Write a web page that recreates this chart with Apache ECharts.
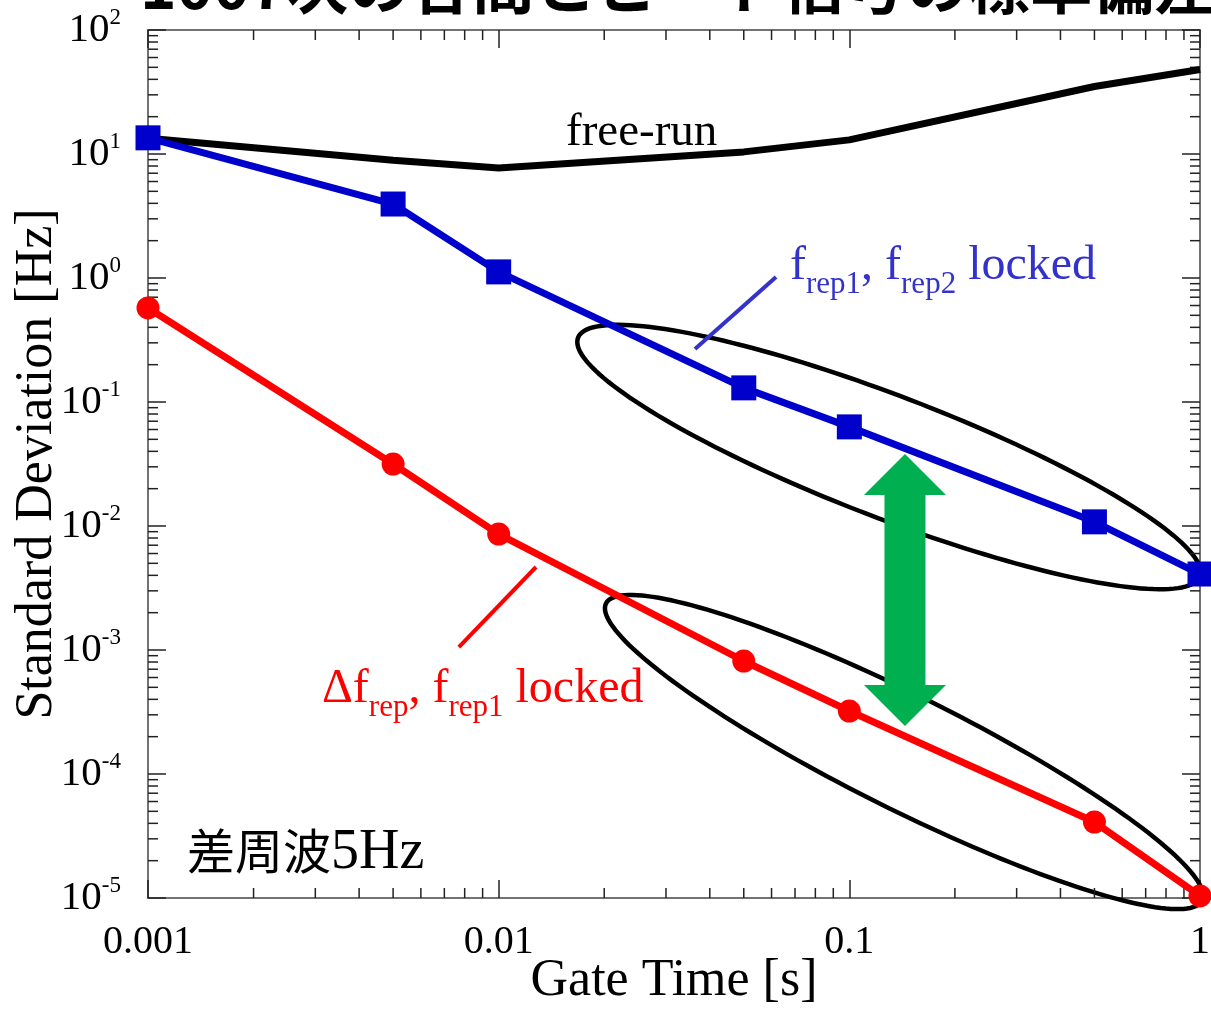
<!DOCTYPE html>
<html><head><meta charset="utf-8">
<script src="https://cdn.jsdelivr.net/npm/echarts@6/dist/echarts.min.js"></script>
<style>html,body{margin:0;padding:0;background:#fff}#c{width:1211px;height:1009px}</style>
</head><body><div id="c"></div>
<script>
// ---- data ----
const gateTimes = [0.001, 0.005, 0.01, 0.05, 0.1, 0.5, 1];
const freeRun = [13.4, 8.9, 7.7, 10.4, 13.0, 35, 48];
const bothLocked = [13.5, 3.95, 1.12, 0.13, 0.063, 0.0108, 0.0041];
const deltaLocked = [0.573, 0.0316, 0.0086, 8.15e-4, 3.22e-4, 4.1e-5, 1.04e-5];
const xTickLabels = ['0.001', '0.01', '0.1', '1'];
const yTickExponents = ['-5', '-4', '-3', '-2', '-1', '0', '1', '2'];
const titleText = '1007次の各間とビート信号の標準偏差';
const freeRunLabel = 'free-run';
const noteText = ['差周波', '5Hz'];

// annotation anchors in data coordinates
const ellipseUpper = { center: [0.1297, 0.0360], rx: 333, ry: 61, angle: 21 };
const ellipseLower = { center: [0.1432, 1.504e-4], rx: 333, ry: 57, angle: 26.5 };
const arrowEnds = [[0.1441, 0.0381], [0.1441, 2.44e-4]];
const blueLeader = [[0.0618, 1.019], [0.0363, 0.2676]];
const redLeader = [[0.01278, 4.67e-3], [0.0077, 1.057e-3]];

const serif = 'Liberation Serif';
const cjk = 'Noto Sans CJK JP';

// minor tick positions (2..9 x 10^k)
const minorMult = [2, 3, 4, 5, 6, 7, 8, 9];
const minorTicks = [];
for (let k = -3; k <= -1; k++) minorMult.forEach(m => {
  const v = m * Math.pow(10, k);
  minorTicks.push([v, 1e-5, 2], [v, 100, 3]);
});
for (let k = -5; k <= 1; k++) minorMult.forEach(m => {
  const v = m * Math.pow(10, k);
  minorTicks.push([0.001, v, 0], [1, v, 1]);
});

const pairs = arr => gateTimes.map((x, i) => [x, arr[i]]);

const axisLineStyle = { color: '#444', width: 1.5 };
const tickStyle = { color: '#222', width: 1.5 };

const chart = echarts.init(document.getElementById('c'), null, { renderer: 'canvas' });
chart.setOption({
  animation: false,
  backgroundColor: '#fff',
  grid: { left: 148, right: 11, top: 30, bottom: 111, containLabel: false, outerBoundsMode: 'none' },
  xAxis: [{
    type: 'log', logBase: 10, min: 0.001, max: 1, position: 'bottom',
    axisLine: { onZero: false, lineStyle: axisLineStyle },
    axisTick: { inside: true, length: 18, lineStyle: tickStyle },
    splitLine: { show: false },
    axisLabel: {
      showMinLabel: true, showMaxLabel: true, margin: 24,
      fontFamily: serif, fontSize: 40, color: '#000',
      formatter: v => xTickLabels[Math.round(Math.log10(v)) + 3]
    },
    name: 'Gate Time [s]', nameLocation: 'middle', nameGap: 57, nameMoveOverlap: false,
    nameTextStyle: { fontFamily: serif, fontSize: 52, color: '#000' }
  }, {
    type: 'log', logBase: 10, min: 0.001, max: 1, position: 'top',
    axisLine: { onZero: false, lineStyle: axisLineStyle },
    axisTick: { inside: true, length: 18, lineStyle: tickStyle },
    splitLine: { show: false }, axisLabel: { show: false }
  }],
  yAxis: [{
    type: 'log', logBase: 10, min: 1e-5, max: 100, position: 'left',
    axisLine: { onZero: false, lineStyle: axisLineStyle },
    axisTick: { inside: true, length: 18, lineStyle: tickStyle },
    splitLine: { show: false },
    axisLabel: {
      showMinLabel: true, showMaxLabel: true, margin: 27,
      formatter: v => '{b|10}{s|' + yTickExponents[Math.round(Math.log10(v)) + 5] + '}',
      rich: {
        b: { fontFamily: serif, fontSize: 41, color: '#000', verticalAlign: 'bottom', padding: [0, 0, 3, 0] },
        s: { fontFamily: serif, fontSize: 23, color: '#000', verticalAlign: 'bottom', padding: [0, 0, 25, 0] }
      }
    },
    name: 'Standard Deviation [Hz]', nameLocation: 'middle', nameGap: 85, nameMoveOverlap: false,
    nameTextStyle: { fontFamily: serif, fontSize: 52, color: '#000' }
  }, {
    type: 'log', logBase: 10, min: 1e-5, max: 100, position: 'right',
    axisLine: { onZero: false, lineStyle: axisLineStyle },
    axisTick: { inside: true, length: 18, lineStyle: tickStyle },
    splitLine: { show: false }, axisLabel: { show: false }
  }],
  series: [{
    type: 'custom', name: 'minorTicks', xAxisIndex: 0, yAxisIndex: 0,
    silent: true, clip: false, z: 3,
    data: minorTicks,
    renderItem: (params, api) => {
      const p = api.coord([api.value(0), api.value(1)]);
      const kind = api.value(2);
      const len = 10;
      let x2 = p[0], y2 = p[1];
      if (kind === 0) x2 += len; else if (kind === 1) x2 -= len;
      else if (kind === 2) y2 -= len; else y2 += len;
      return { type: 'line', shape: { x1: p[0], y1: p[1], x2: x2, y2: y2 },
               style: { stroke: '#222', lineWidth: 1.5 } };
    }
  }, {
    type: 'line', name: 'free-run', data: pairs(freeRun), showSymbol: false,
    lineStyle: { color: '#000', width: 7 }, itemStyle: { color: '#000' }, clip: false, z: 4
  }, {
    type: 'line', name: 'frep1, frep2 locked', data: pairs(bothLocked),
    symbol: 'rect', symbolSize: 25, clip: false, z: 5,
    lineStyle: { color: '#0000cc', width: 7 }, itemStyle: { color: '#0000cc' }
  }, {
    type: 'line', name: 'dfrep, frep1 locked', data: pairs(deltaLocked),
    symbol: 'circle', symbolSize: 23, clip: false, z: 5,
    lineStyle: { color: '#ff0000', width: 7 }, itemStyle: { color: '#ff0000' }
  }]
});

// ---- annotations anchored through the chart's own coordinate conversion ----
const toPx = d => chart.convertToPixel({ gridIndex: 0 }, d);

function ellipsePoints(e) {
  const c = toPx(e.center);
  const a = e.angle * Math.PI / 180;
  const pts = [];
  for (let i = 0; i < 180; i++) {
    const t = i / 180 * 2 * Math.PI;
    const ex = e.rx * Math.cos(t), ey = e.ry * Math.sin(t);
    pts.push([c[0] + ex * Math.cos(a) - ey * Math.sin(a), c[1] + ex * Math.sin(a) + ey * Math.cos(a)]);
  }
  return pts;
}

const aTop = toPx(arrowEnds[0]), aBot = toPx(arrowEnds[1]);
const ax = aTop[0], hh = 41, hw = 41, sw = 20.5;
const arrowPts = [
  [ax, aTop[1]], [ax + hw, aTop[1] + hh], [ax + sw, aTop[1] + hh],
  [ax + sw, aBot[1] - hh], [ax + hw, aBot[1] - hh], [ax, aBot[1]],
  [ax - hw, aBot[1] - hh], [ax - sw, aBot[1] - hh], [ax - sw, aTop[1] + hh],
  [ax - hw, aTop[1] + hh]
];
const bl0 = toPx(blueLeader[0]), bl1 = toPx(blueLeader[1]);
const rl0 = toPx(redLeader[0]), rl1 = toPx(redLeader[1]);

chart.setOption({
  graphic: [
    { type: 'polygon', z: 1, silent: true, shape: { points: ellipsePoints(ellipseUpper) },
      style: { fill: 'none', stroke: '#000', lineWidth: 4.5 } },
    { type: 'polygon', z: 1, silent: true, shape: { points: ellipsePoints(ellipseLower) },
      style: { fill: 'none', stroke: '#000', lineWidth: 4.5 } },
    { type: 'polygon', z: 10, silent: true, shape: { points: arrowPts },
      style: { fill: '#00b050', stroke: 'none' } },
    { type: 'line', z: 10, silent: true, shape: { x1: bl0[0], y1: bl0[1], x2: bl1[0], y2: bl1[1] },
      style: { stroke: '#3333cc', lineWidth: 4 } },
    { type: 'line', z: 10, silent: true, shape: { x1: rl0[0], y1: rl0[1], x2: rl1[0], y2: rl1[1] },
      style: { stroke: '#ff0000', lineWidth: 4 } },
    { type: 'text', z: 10, silent: true, x: 140, y: 16,
      style: { text: titleText, fontFamily: cjk, fontSize: 62, fontWeight: 'bold', fill: '#000', verticalAlign: 'bottom' } },
    { type: 'text', z: 10, silent: true, x: 566, y: 137 + 19,
      style: { text: freeRunLabel, fontFamily: serif, fontSize: 47, fill: '#000', verticalAlign: 'bottom' } },
    { type: 'text', z: 10, silent: true, x: 790, y: 280 + 20,
      style: {
        text: '{m|f}{s|rep1}{m|, f}{s|rep2}{m| locked}', verticalAlign: 'bottom',
        rich: {
          m: { fontFamily: serif, fontSize: 48, fill: '#3333cc', color: '#3333cc', verticalAlign: 'bottom', padding: [0, 0, 10, 0] },
          s: { fontFamily: serif, fontSize: 31, fill: '#3333cc', color: '#3333cc', verticalAlign: 'bottom' }
        }
      } },
    { type: 'text', z: 10, silent: true, x: 322, y: 703 + 20,
      style: {
        text: '{m|Δf}{s|rep}{m|, f}{s|rep1}{m| locked}', verticalAlign: 'bottom',
        rich: {
          m: { fontFamily: serif, fontSize: 48, fill: '#ff0000', color: '#ff0000', verticalAlign: 'bottom', padding: [0, 0, 10, 0] },
          s: { fontFamily: serif, fontSize: 31, fill: '#ff0000', color: '#ff0000', verticalAlign: 'bottom' }
        }
      } },
    { type: 'text', z: 10, silent: true, x: 187, y: 881,
      style: {
        text: '{c|' + noteText[0] + '}{e|' + noteText[1] + '}', verticalAlign: 'bottom',
        rich: {
          c: { fontFamily: cjk, fontSize: 48, fill: '#000', color: '#000', verticalAlign: 'bottom', padding: [0, 0, 6, 0] },
          e: { fontFamily: serif, fontSize: 56, fill: '#000', color: '#000', verticalAlign: 'bottom' }
        }
      } }
  ]
});
</script></body></html>
